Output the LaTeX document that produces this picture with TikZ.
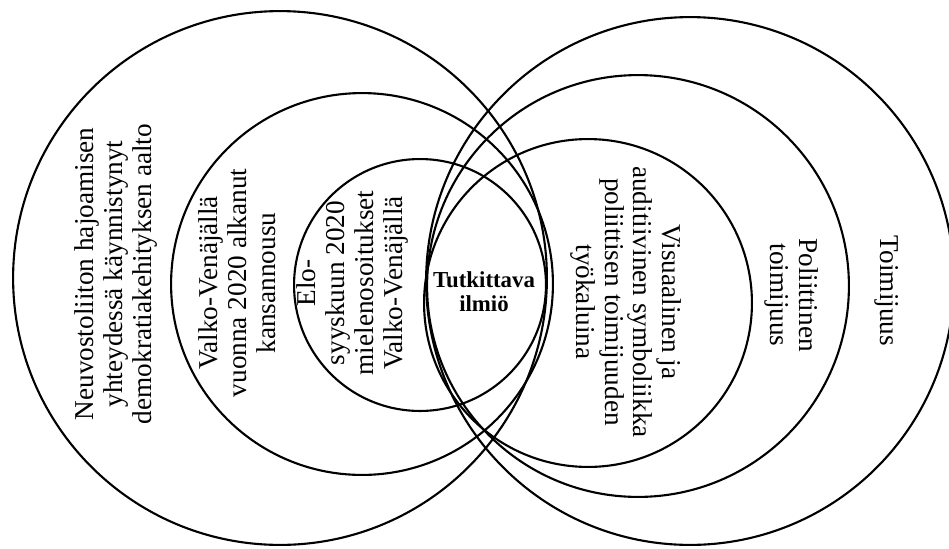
\documentclass[tikz,border=0pt]{standalone}
\usepackage{fontspec}
\setmainfont{Liberation Serif}
\usetikzlibrary{positioning}

\begin{document}
\begin{tikzpicture}[x=0.02cm, y=-0.02cm,
  ring/.style={circle, draw, line width=1.2pt, inner sep=0pt},
  ringtext/.style={align=center, font=\fontsize{15.5}{16.5}\selectfont},
  coretext/.style={align=center, font=\bfseries\fontsize{13}{13.5}\selectfont},
]
  \useasboundingbox (0,0) rectangle (949,548);

  % nested circles, left and right
  \foreach \n/\x/\y/\r in {lbig/280/278/267, lmid/362/284/191, lsmall/420/285/126,
                            rbig/690/281/264, rmid/638/286/211, rsmall/588/303/164} {
    \node[ring, minimum size=\r*0.04cm] (\n) at (\x,\y) {};
  }

  \node[ringtext, rotate=90] (lbigtext) at (116,274)
    {Neuvostoliiton hajoamisen\\yhteydessä käynnistynyt\\demokratiakehityksen aalto};
  \node[ringtext, rotate=90] (lmidtext) at (237,283)
    {Valko-Venäjällä\\vuonna 2020 alkanut\\kansannousu};
  \node[ringtext, rotate=90] (lsmalltext) at (352,283)
    {Elo-\\syyskuun 2020\\mielenosoitukset\\Valko-Venäjällä};

  \node[coretext] (core) at (484,292) {Tutkittava\\ilmiö};

  \node[ringtext, rotate=-90] (rsmalltext) at (626,302)
    {Visuaalinen ja\\auditiivinen symboliikka\\poliittisen toimijuuden\\työkaluina};
  \node[ringtext, rotate=-90] (rmidtext) at (792,295)
    {Poliittinen\\toimijuus};
  \node[ringtext, rotate=-90] (rbigtext) at (887,291) {Toimijuus};
\end{tikzpicture}
\end{document}
